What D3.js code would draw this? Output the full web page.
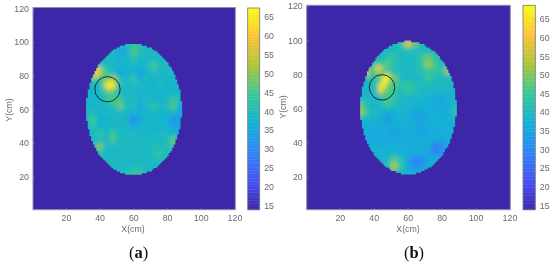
<!DOCTYPE html>
<html>
<head>
<meta charset="utf-8">
<style>
html, body { margin: 0; background: #fff; }
svg { display: block; filter: blur(0.4px); }
text { font-family: "Liberation Sans", Arial, sans-serif; }
</style>
<script src="https://cdn.jsdelivr.net/npm/d3@7"></script>
</head>
<body>
<svg id="chart" width="550" height="264"></svg>
<script>
/*
 * Data (cell centres in cm)
 */
var X_CELLS = [32, 36, 40, 44, 48, 52, 56, 60, 64, 68, 72, 76, 80, 84, 88],
    Y_CELLS = [98, 94, 90, 86, 82, 78, 74, 70, 66, 62, 58, 54, 50, 46, 42, 38, 34, 30, 26, 22];

var AXIS_TICKS = [20, 40, 60, 80, 100, 120],
    BAR_TICKS = [15, 20, 25, 30, 35, 40, 45, 50, 55, 60, 65];

var PARULA = ['#3e26a8', '#4752f4', '#2d87f7', '#12b1d6', '#37c897', '#abc739', '#fec338', '#f9fb14'];

var GRID_A = [
    [39,39,39,39,39,39,39,44,41,39,39,39,39,39,39],
    [39,39,39,39,39,34,37,46,41,39,39,39,39,39,39],
    [39,39,39,39,39,38,38,42,39,39,39,39,39,39,39],
    [39,39,42,40,39,38,38,39,38,39,45,40,39,39,39],
    [39,46,52,44,40,35,37,38,34,38,40,39,39,39,39],
    [39,44,44,48,52,42,38,44,37,39,38,39,38,38,39],
    [39,38,40,50,52,42,39,39,39,39,38,39,38,38,39],
    [39,38,39,44,46,40,39,39,38,38,39,38,38,38,39],
    [39,38,38,42,46,45,39,39,38,39,38,38,39,44,39],
    [39,38,39,39,41,48,39,40,35,39,43,39,40,46,35],
    [39,40,38,39,39,39,39,38,37,38,39,38,38,38,34],
    [39,45,38,38,39,39,38,29,35,39,38,38,37,32,35],
    [39,42,38,38,38,39,39,37,38,39,38,38,38,33,36],
    [39,39,43,39,44,39,39,39,39,38,39,39,39,37,38],
    [39,39,41,39,46,39,40,39,39,39,39,39,40,47,38],
    [39,39,49,39,39,39,39,39,39,39,40,40,40,45,38],
    [39,39,43,39,39,39,39,39,39,39,40,43,39,39,39],
    [39,39,39,39,39,39,39,39,39,39,40,40,39,39,39],
    [39,39,39,39,39,39,39,40,40,39,39,39,39,39,39],
    [39,39,39,39,39,39,42,44,43,40,39,39,39,39,39]
];

var GRID_B = [
    [39,39,39,39,39,39,43,57,49,41,39,39,39,39,39],
    [39,39,39,39,40,40,41,42,41,40,40,39,39,39,39],
    [39,39,39,40,43,43,40,40,40,44,48,44,41,39,39],
    [39,39,43,44,47,42,40,40,41,43,52,46,41,39,39],
    [43,46,46,50,45,41,41,39,40,42,45,45,43,53,39],
    [39,41,43,48,52,49,40,40,40,40,45,41,40,41,39],
    [39,39,41,46,48,47,43,45,42,41,41,40,40,40,39],
    [39,39,39,50,47,45,41,43,42,40,40,39,39,39,39],
    [39,39,40,41,47,43,40,39,39,39,38,37,36,38,39],
    [49,41,39,40,45,41,39,39,38,38,37,37,35,37,39],
    [53,45,39,39,37,38,39,38,36,36,37,37,36,37,43],
    [41,39,38,38,32,37,38,38,35,33,37,37,37,37,39],
    [37,37,37,37,36,37,37,37,37,36,37,37,37,37,37],
    [37,37,36,36,37,34,36,37,36,34,36,37,37,37,37],
    [37,36,35,35,36,35,36,37,36,37,37,37,36,37,37],
    [37,37,38,37,37,37,37,37,37,37,36,28,30,36,37],
    [37,37,38,39,38,38,37,37,36,36,35,30,30,36,37],
    [37,37,37,38,40,47,43,36,29,29,36,37,37,37,37],
    [37,37,37,38,41,53,43,36,31,33,37,37,37,37,37],
    [37,37,37,37,39,41,40,38,37,37,37,37,37,37,37]
];

// finer cells (x cm, y cm, value) for the hot spots, 2 cm wide
var FINE_A = [
    [38, 84, 62], [40, 84, 58], [38, 82, 66], [36, 80, 58], [38, 80, 60],
    [44, 76, 56], [46, 76, 68], [48, 76, 60], [44, 74, 66], [46, 74, 74], [48, 74, 68], [46, 72, 60]
];

var FINE_B = [
    [42, 84, 64], [44, 84, 60], [42, 82, 58], [36, 82, 60], [36, 80, 58],
    [48, 80, 62], [46, 78, 68], [48, 78, 72], [46, 76, 72], [48, 76, 66],
    [44, 74, 64], [46, 74, 72], [44, 72, 70], [46, 72, 62], [44, 70, 64]
];

// centre x, centre y, radius x, radius y in cm
var ELLIPSE_A = [60.4, 60, 28.3, 38.6],
    ELLIPSE_B = [60.4, 60.3, 28.3, 38.8];

// centre x, centre y, radius in cm
var CIRCLE_A = [44.7, 72, 7.5],
    CIRCLE_B = [44.9, 72.3, 7.5];

var RANGE_A = [13.9, 67.4],
    RANGE_B = [13.8, 68.7];

/*
 * Style variables
 */
var TEXT_COLOR = '#6a6a6a',
    FRAME_COLOR = '#8f8cae',
    FONT_SIZE = '8.8px',
    BASE_VALUE = 39;

var svg = d3.select('#chart');
var defs = svg.append('defs');

function styleAxis(g) {
    g.select('.domain').remove();
    g.selectAll('text').attr('fill', TEXT_COLOR).style('font-size', FONT_SIZE);
    g.selectAll('line').attr('stroke', '#8a88a8').attr('stroke-width', 0.5);
}

function drawPanel(id, cfg) {
    var panel = svg.append('g').attr('id', id);

    var x = d3.scaleLinear().domain([0.5, 120.5]).range(cfg.xRange),
        y = d3.scaleLinear().domain([0.5, 120.5]).range(cfg.yRange);

    var colorT = d3.scaleLinear()
        .domain(PARULA.map(function (d, i) { return i / (PARULA.length - 1); }))
        .range(PARULA)
        .clamp(true);
    var color = function (v) {
        return colorT((v - cfg.range[0]) / (cfg.range[1] - cfg.range[0]));
    };

    var cw = x(4) - x(0),
        ch = y(0) - y(4);

    // background
    panel.append('rect')
        .attr('x', cfg.xRange[0])
        .attr('y', cfg.yRange[1])
        .attr('width', cfg.xRange[1] - cfg.xRange[0])
        .attr('height', cfg.yRange[0] - cfg.yRange[1])
        .attr('fill', color(cfg.range[0]));

    // stepped outline of the 1 cm pixels, one path so the rows have no seams
    var ex = cfg.ellipse[0], ey = cfg.ellipse[1], erx = cfg.ellipse[2], ery = cfg.ellipse[3];
    var rows = d3.range(Math.ceil(ey - ery), Math.floor(ey + ery) + 1);
    var outline = d3.path();
    rows.forEach(function (d) {
        var t = (d - ey) / ery,
            hw = erx * Math.sqrt(1 - t * t);
        var px = x(Math.round(ex - hw)),
            pw = x(Math.round(ex + hw)) - px;
        outline.rect(px, y(d + 0.5) - 0.5, pw, y(0) - y(1) + 1);
    });
    defs.append('clipPath').attr('id', id + '-clip')
        .append('path')
        .attr('d', outline.toString());

    var filter = defs.append('filter')
        .attr('id', id + '-blur')
        .attr('filterUnits', 'userSpaceOnUse')
        .attr('x', x(20)).attr('y', y(110))
        .attr('width', x(80) - x(0)).attr('height', y(0) - y(100));
    filter.append('feGaussianBlur').attr('stdDeviation', 1.9);

    var heat = panel.append('g')
        .attr('clip-path', 'url(#' + id + '-clip)')
        .append('g')
        .attr('filter', 'url(#' + id + '-blur)');

    heat.append('rect')
        .attr('x', x(24)).attr('y', y(106))
        .attr('width', x(72) - x(0)).attr('height', y(0) - y(92))
        .attr('fill', color(BASE_VALUE));

    cfg.grid.forEach(function (row, r) {
        heat.selectAll('rect.r' + r)
            .data(row)
            .enter().append('rect')
            .attr('class', 'r' + r)
            .attr('x', function (d, i) { return x(X_CELLS[i]) - cw / 2; })
            .attr('y', y(Y_CELLS[r]) - ch / 2)
            .attr('width', cw + 0.3)
            .attr('height', ch + 0.3)
            .attr('fill', function (d) { return color(d); });
    });

    heat.selectAll('rect.fine')
        .data(cfg.fine)
        .enter().append('rect')
        .attr('class', 'fine')
        .attr('x', function (d) { return x(d[0]) - cw / 4; })
        .attr('y', function (d) { return y(d[1]) - ch / 4; })
        .attr('width', cw / 2 + 0.2)
        .attr('height', ch / 2 + 0.2)
        .attr('fill', function (d) { return color(d[2]); });

    // circle marking the target
    panel.append('circle')
        .attr('cx', x(cfg.circle[0]))
        .attr('cy', y(cfg.circle[1]))
        .attr('r', x(cfg.circle[2]) - x(0))
        .attr('fill', 'none')
        .attr('stroke', '#14302f')
        .attr('stroke-width', 1);

    // frame and axes
    panel.append('rect')
        .attr('x', cfg.xRange[0])
        .attr('y', cfg.yRange[1])
        .attr('width', cfg.xRange[1] - cfg.xRange[0])
        .attr('height', cfg.yRange[0] - cfg.yRange[1])
        .attr('fill', 'none')
        .attr('stroke', FRAME_COLOR);

    panel.append('g')
        .attr('transform', 'translate(0,' + cfg.yRange[0] + ')')
        .call(d3.axisBottom(x).tickValues(AXIS_TICKS).tickSize(-2).tickPadding(5))
        .call(styleAxis);

    panel.append('g')
        .attr('transform', 'translate(' + cfg.xRange[0] + ',0)')
        .call(d3.axisLeft(y).tickValues(AXIS_TICKS).tickSize(-2).tickPadding(4))
        .call(styleAxis);

    panel.append('text')
        .attr('x', cfg.xLabel[0]).attr('y', cfg.xLabel[1])
        .attr('text-anchor', 'middle')
        .attr('fill', TEXT_COLOR)
        .style('font-size', FONT_SIZE)
        .text('X(cm)');

    panel.append('text')
        .attr('transform', 'translate(' + cfg.yLabel[0] + ',' + cfg.yLabel[1] + ') rotate(-90)')
        .attr('text-anchor', 'middle')
        .attr('fill', TEXT_COLOR)
        .style('font-size', FONT_SIZE)
        .text('Y(cm)');

    // colorbar
    var barY = d3.scaleLinear().domain(cfg.range).range([cfg.yRange[0], cfg.barTop]);
    var steps = d3.range(0, 128);
    var stepValue = d3.scaleLinear().domain([0, 128]).range(cfg.range);

    panel.append('g').selectAll('rect')
        .data(steps)
        .enter().append('rect')
        .attr('x', cfg.barX[0])
        .attr('y', function (d) { return barY(stepValue(d + 1)); })
        .attr('width', cfg.barX[1] - cfg.barX[0])
        .attr('height', function (d) { return barY(stepValue(d)) - barY(stepValue(d + 1)) + 0.4; })
        .attr('fill', function (d) { return color(stepValue(d + 0.5)); });

    panel.append('rect')
        .attr('x', cfg.barX[0])
        .attr('y', cfg.barTop)
        .attr('width', cfg.barX[1] - cfg.barX[0])
        .attr('height', cfg.yRange[0] - cfg.barTop)
        .attr('fill', 'none')
        .attr('stroke', '#77778a')
        .attr('stroke-width', 0.8);

    panel.append('g')
        .attr('transform', 'translate(' + cfg.barX[1] + ',0)')
        .call(d3.axisRight(barY).tickValues(BAR_TICKS).tickSize(-1.5).tickPadding(4.5))
        .call(styleAxis);

    // caption
    var caption = panel.append('text')
        .attr('x', cfg.caption[0]).attr('y', cfg.caption[1])
        .attr('text-anchor', 'middle')
        .attr('fill', '#111')
        .style('font-family', '"Liberation Serif", serif')
        .style('font-size', '16.5px');
    caption.append('tspan').text('(');
    caption.append('tspan').style('font-weight', 'bold').text(cfg.letter);
    caption.append('tspan').text(')');
}

(function () {
    drawPanel('panel-a', {
        grid: GRID_A, fine: FINE_A, ellipse: ELLIPSE_A, circle: CIRCLE_A, range: RANGE_A,
        xRange: [33, 235.3], yRange: [209.7, 7.5],
        barX: [247.7, 259.7], barTop: 8,
        xLabel: [133, 232], yLabel: [12, 110],
        caption: [138.5, 258], letter: 'a'
    });

    drawPanel('panel-b', {
        grid: GRID_B, fine: FINE_B, ellipse: ELLIPSE_B, circle: CIRCLE_B, range: RANGE_B,
        xRange: [306.7, 510.3], yRange: [209.7, 5.3],
        barX: [523, 535.3], barTop: 5.3,
        xLabel: [408, 232], yLabel: [286, 107],
        caption: [414, 258], letter: 'b'
    });
})();
</script>
</body>
</html>
